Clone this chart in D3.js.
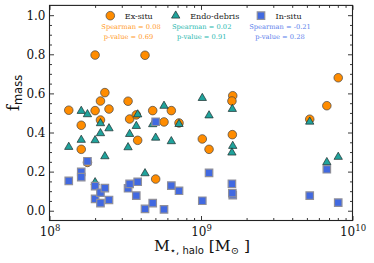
<!DOCTYPE html>
<html>
<head>
<meta charset="utf-8">
<script src="https://cdn.jsdelivr.net/npm/d3@7"></script>
<style>
  html, body { margin: 0; padding: 0; background: #fff; }
  svg { display: block; }
  .tick text { font-family: "DejaVu Serif", serif; }
</style>
</head>
<body>
<div id="chart"></div>
<script>
// stellar halo mass of each galaxy (Msun) and the mass fraction of each component
const mass = [1.34e8, 1.62e8, 1.62e8, 1.78e8, 2.0e8, 2.0e8, 2.17e8, 2.17e8, 2.32e8, 2.47e8,
  3.30e8, 3.38e8, 3.74e8, 3.82e8, 4.27e8, 4.80e8, 5.02e8, 5.70e8, 6.37e8, 7.16e8,
  1.02e9, 1.13e9, 1.62e9, 1.60e9, 1.61e9, 5.22e9, 6.77e9, 8.05e9];
const fExSitu = [0.514, 0.437, 0.314, 0.247, 0.796, 0.512, 0.561, 0.464, 0.604, 0.520,
  0.560, 0.469, 0.490, 0.360, 0.795, 0.512, 0.162, 0.454, 0.512, 0.449,
  0.367, 0.314, 0.588, 0.561, 0.389, 0.468, 0.537, 0.680];
const fEndo = [0.326, 0.362, 0.510, 0.493, 0.145, 0.360, 0.396, 0.447, 0.278, 0.421,
  0.324, 0.392, 0.433, 0.492, 0.191, 0.442, 0.373, 0.536, 0.355, 0.443,
  0.576, 0.487, 0.331, 0.297, 0.520, 0.455, 0.248, 0.275];
const fInSitu = [0.153, 0.199, 0.172, 0.253, 0.061, 0.126, 0.039, 0.092, 0.116, 0.055,
  0.115, 0.137, 0.077, 0.148, 0.009, 0.039, 0.455, 0.007, 0.128, 0.102,
  0.051, 0.194, 0.080, 0.138, 0.090, 0.077, 0.212, 0.041];

const seriesNames = ["Ex-situ", "Endo-debris", "In-situ"];
const spearman = ["0.08", "0.02", "-0.21"];
const pValues = ["0.69", "0.91", "0.28"];
const yTicks = [0.0, 0.2, 0.4, 0.6, 0.8, 1.0];
const xTicks = [1e8, 1e9, 1e10];

const W = 374, H = 263;
const m = { left: 49.5, right: 352.5, top: 5.4, bottom: 220.5 };

const svg = d3.select("#chart").append("svg")
  .attr("width", W).attr("height", H)
  .attr("viewBox", `0 0 ${W} ${H}`);

const x = d3.scaleLog().domain([1e8, 1e10]).range([m.left, m.right]);
const y = d3.scaleLinear().domain([-0.05, 1.05]).range([m.bottom, m.top]);

const frame = "#222";

// minor ticks (log decades / every 0.05)
const xMinor = [];
for (let e = 8; e < 10; e++) for (let k = 2; k <= 9; k++) xMinor.push(k * Math.pow(10, e));
const yMinor = d3.range(0, 21).map(i => +(i * 0.05).toFixed(2)).filter(v => !yTicks.includes(v));

function axisStyle(g) {
  g.select(".domain").remove();
  g.selectAll(".tick line").attr("stroke", frame).attr("stroke-width", 0.9);
}

// bottom
svg.append("g").attr("transform", `translate(0,${m.bottom})`)
  .call(d3.axisBottom(x).tickValues(xMinor).tickSize(-2.5).tickFormat(""))
  .call(axisStyle);
const xb = svg.append("g").attr("transform", `translate(0,${m.bottom})`)
  .call(d3.axisBottom(x).tickValues(xTicks).tickSize(-4.5).tickFormat(""))
  .call(axisStyle);
xb.selectAll(".tick").append("text")
  .attr("y", 15.5).attr("fill", "#111").attr("text-anchor", "middle")
  .attr("font-size", 12)
  .each(function (d) {
    const t = d3.select(this);
    t.append("tspan").text("10");
    t.append("tspan").attr("font-size", 8.5).attr("dy", -5.5).text(Math.round(Math.log10(d)));
  });
// top
svg.append("g").attr("transform", `translate(0,${m.top})`)
  .call(d3.axisTop(x).tickValues(xMinor).tickSize(-2.5).tickFormat(""))
  .call(axisStyle);
svg.append("g").attr("transform", `translate(0,${m.top})`)
  .call(d3.axisTop(x).tickValues(xTicks).tickSize(-4.5).tickFormat(""))
  .call(axisStyle);
// left
svg.append("g").attr("transform", `translate(${m.left},0)`)
  .call(d3.axisLeft(y).tickValues(yMinor).tickSize(-2.5).tickFormat(""))
  .call(axisStyle);
svg.append("g").attr("transform", `translate(${m.left},0)`)
  .call(d3.axisLeft(y).tickValues(yTicks).tickSize(-4.5).tickFormat(d3.format(".1f")))
  .call(axisStyle)
  .call(g => g.selectAll(".tick text").attr("font-size", 12).attr("fill", "#111")
    .attr("x", -4));
// right
svg.append("g").attr("transform", `translate(${m.right},0)`)
  .call(d3.axisRight(y).tickValues(yMinor).tickSize(-2.5).tickFormat(""))
  .call(axisStyle);
svg.append("g").attr("transform", `translate(${m.right},0)`)
  .call(d3.axisRight(y).tickValues(yTicks).tickSize(-4.5).tickFormat(""))
  .call(axisStyle);

svg.append("rect")
  .attr("x", m.left).attr("y", m.top)
  .attr("width", m.right - m.left).attr("height", m.bottom - m.top)
  .attr("fill", "none").attr("stroke", frame).attr("stroke-width", 1.1);

// markers
const colors = ["#ff8c00", "#20a39c", "#4169e1"];
const textColors = ["#ff9a1f", "#2ab8b0", "#5a80ec"];
const edges = ["#444", "#1c2b2b", "#8f8f9a"];
const symbols = [
  d3.symbol().type(d3.symbolCircle).size(58),
  d3.symbol().type(d3.symbolTriangle).size(30),
  d3.symbol().type(d3.symbolSquare).size(56)
];
const fractions = [fExSitu, fEndo, fInSitu];

fractions.forEach((fr, s) => {
  svg.append("g").selectAll("path")
    .data(mass.map((mv, i) => [mv, fr[i]]))
    .join("path")
    .attr("d", symbols[s])
    .attr("transform", d => `translate(${x(d[0])},${y(d[1])})`)
    .attr("fill", colors[s])
    .attr("stroke", edges[s])
    .attr("stroke-width", s === 2 ? 1.2 : 0.7);
});

// legend
const legX = [110.3, 175.7, 261];
const statX = [131, 201.7, 280];
const leg = svg.append("g");
seriesNames.forEach((name, s) => {
  leg.append("path")
    .attr("d", symbols[s])
    .attr("transform", `translate(${legX[s]},15.7)`)
    .attr("fill", colors[s]).attr("stroke", edges[s])
    .attr("stroke-width", s === 2 ? 1.2 : 0.7);
  leg.append("text")
    .attr("x", legX[s] + 14.5).attr("y", 18.6)
    .attr("font-family", "DejaVu Serif, serif").attr("font-size", 8)
    .attr("fill", "#222").text(name);
  leg.append("text")
    .attr("x", statX[s]).attr("y", 29.2).attr("text-anchor", "middle")
    .attr("font-family", "DejaVu Serif, serif").attr("font-size", 6.7)
    .attr("fill", textColors[s]).text(`Spearman = ${spearman[s]}`);
  leg.append("text")
    .attr("x", statX[s] - (s === 0 ? 2.5 : 0)).attr("y", 38.5).attr("text-anchor", "middle")
    .attr("font-family", "DejaVu Serif, serif").attr("font-size", 6.7)
    .attr("fill", textColors[s]).text(`p-value = ${pValues[s]}`);
});

// axis labels
const xl = svg.append("text")
  .attr("x", (m.left + m.right) / 2 + 1).attr("y", 251)
  .attr("text-anchor", "middle").attr("fill", "#111")
  .attr("font-family", "DejaVu Serif, serif").attr("font-size", 15.5);
xl.append("tspan").text("M");
xl.append("tspan").attr("font-family", "DejaVu Sans, sans-serif").attr("font-size", 10)
  .attr("dy", 3).text("\u22c6, halo");
xl.append("tspan").attr("dy", -3).text(" [M");
xl.append("tspan").attr("font-size", 10).attr("dy", 3).text("\u2299");
xl.append("tspan").attr("dy", -3).text(" ]");

const yl = svg.append("text")
  .attr("transform", "translate(19,111) rotate(-90)")
  .attr("text-anchor", "start").attr("fill", "#111")
  .attr("font-family", "DejaVu Serif, serif").attr("font-size", 16);
yl.append("tspan").text("f");
yl.append("tspan").attr("font-family", "DejaVu Sans, sans-serif").attr("font-size", 11.5)
  .attr("dy", 3).text("mass");
</script>
</body>
</html>
